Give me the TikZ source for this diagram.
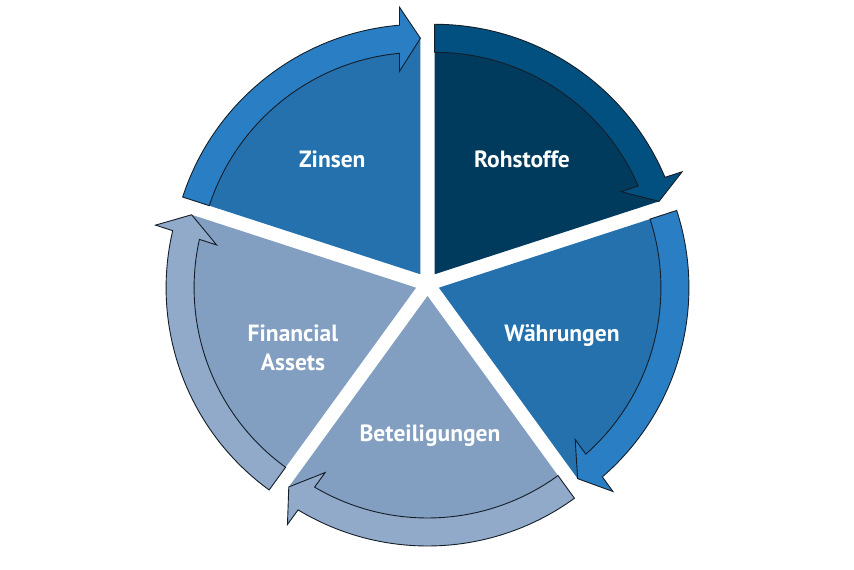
\documentclass[tikz,border=0pt]{standalone}
\usepackage{fontspec}
\setmainfont{PT Sans}
\usetikzlibrary{calc}
\definecolor{piemid}{HTML}{2471AE}
\definecolor{bandmid}{HTML}{2A7FC4}
\definecolor{piedark}{HTML}{003B5E}
\definecolor{banddark}{HTML}{025080}
\definecolor{pielight}{HTML}{829EC0}
\definecolor{bandlight}{HTML}{91AACA}
\definecolor{edgeline}{HTML}{141E28}
\newcommand\mysegment[4]{%
  \coordinate (#1) at ($(C)+(#2:12)$);
  \pgfmathsetmacro\sA{#2+36}%
  \pgfmathsetmacro\eA{#2-36}%
  \pgfmathsetmacro\eB{\eA+4.818}%
  \pgfmathsetmacro\eC{\eA+4.494}%
  \pgfmathsetmacro\eD{\eA+5.908}%
  \pgfmathsetmacro\eE{\eA+5.428}%
  \fill[#3] (#1) -- ($(#1)+(\sA:236)$) arc[start angle=\sA, end angle=\eA, radius=236] -- cycle;
  \draw[bandstyle, fill=#4] ($(#1)+(\sA:250)$)
     arc[start angle=\sA, end angle=\eB, radius=250]
     -- ($(#1)+(\eC:268)$) -- ($(#1)+(\eA:236)$) -- ($(#1)+(\eD:204)$)
     -- ($(#1)+(\eE:222)$)
     arc[start angle=\eE, end angle=\sA, radius=222] -- cycle;
}
\begin{document}
\begin{tikzpicture}[x=1pt,y=1pt,
  bandstyle/.style={draw=edgeline, line width=0.9pt, line join=miter},
  lbl/.style={text=white, font=\fontsize{23.5}{29.3}\selectfont\bfseries, anchor=base, align=center, inner sep=0pt}]
\useasboundingbox (0,0) rectangle (854,570);
\fill[white] (0,0) rectangle (854,570);
\coordinate (C) at (427.5,286);
\mysegment{zin}{126}{piemid}{bandmid}
\mysegment{roh}{54}{piedark}{banddark}
\mysegment{wae}{-18}{piemid}{bandmid}
\mysegment{bet}{-90}{pielight}{bandlight}
\mysegment{fin}{198}{pielight}{bandlight}
\node[lbl] (tzin) at (332.3,402.5) {Zinsen};
\node[lbl] (troh) at (522,402.5) {Rohstoffe};
\node[lbl] (twae) at (562,228.3) {Währungen};
\node[lbl] (tbet) at (430,128.3) {Beteiligungen};
\node[lbl] (tfin) at (293,199) {Financial\\Assets};
\end{tikzpicture}
\end{document}
